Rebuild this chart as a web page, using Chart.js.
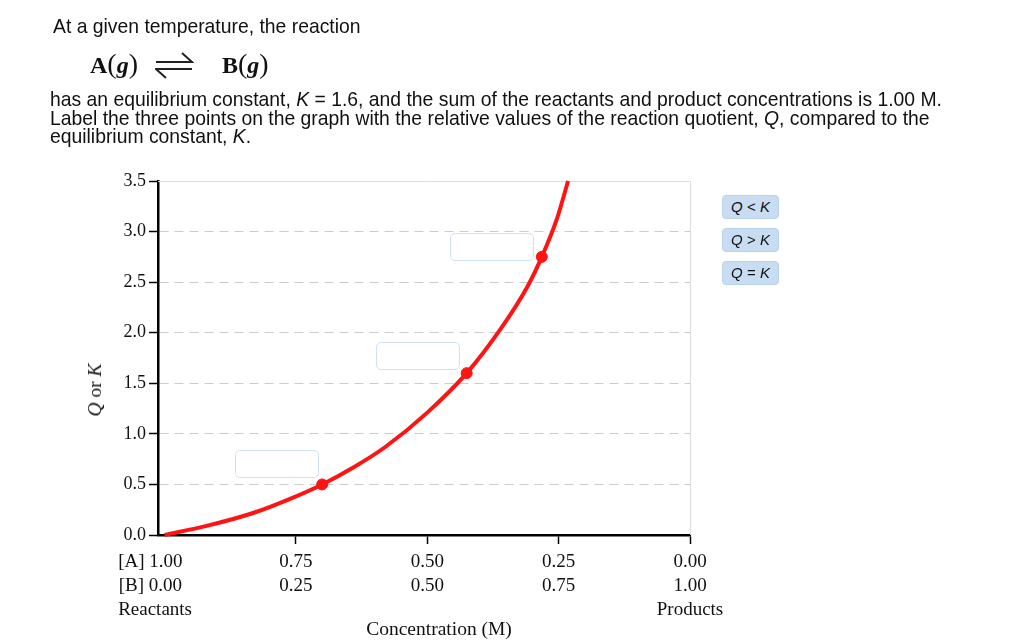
<!DOCTYPE html>
<html lang="en">
<head>
<meta charset="UTF-8">
<title>Q vs K</title>
<script src="https://cdn.jsdelivr.net/npm/chart.js@4.4.1/dist/chart.umd.min.js"></script>
<style>
  body { margin: 0; background: #fff; }
  #wrap { position: relative; width: 1024px; height: 640px; overflow: hidden; }
  #chart { position: absolute; left: 0; top: 0; }
  .txt { position: absolute; font-family: "Liberation Sans", Arial, sans-serif; font-size: 19.35px; line-height: 18.5px; color: #111; white-space: nowrap; }
  .eq { position: absolute; top: 52px; font-family: "Liberation Serif", "Times New Roman", serif; font-size: 24px; line-height: 24px; color: #111; white-space: nowrap; }
  .eq .p { font-weight: normal; font-size: 28px; }
  .serif { position: absolute; font-family: "Liberation Serif", "Times New Roman", serif; font-size: 19.5px; color: #111; white-space: nowrap; }
  .btn { position: absolute; left: 722px; width: 55px; height: 22px; background: #c8ddf2; border: 1px solid #b8d1eb; border-radius: 4px;
         font-family: "Liberation Sans", Arial, sans-serif; font-size: 15px; line-height: 22px; text-align: center; color: #111; }
  .slot { position: absolute; width: 82px; height: 26px; background: #fff; border: 1px solid #cfe1f4; border-radius: 5px; }
</style>
</head>
<body>
<div id="wrap">
  <canvas id="chart" width="1024" height="640"></canvas>

  <div class="txt" style="left:53px; top:17px;">At a given temperature, the reaction</div>
  <div class="eq" style="left:90px;"><b>A</b><span class="p">(</span><b><i>g</i></b><span class="p">)</span></div>
  <svg style="position:absolute; left:155px; top:50px;" width="39" height="30">
    <path d="M1 12 H37 L27 3 M37 19 H1 L11 28" fill="none" stroke="#222" stroke-width="2"/>
  </svg>
  <div class="eq" style="left:222px;"><b>B</b><span class="p">(</span><b><i>g</i></b><span class="p">)</span></div>
  <div class="txt" style="left:50px; top:90px;">has an equilibrium constant, <i>K</i> = 1.6, and the sum of the reactants and product concentrations is 1.00 M.<br>Label the three points on the graph with the relative values of the reaction quotient, <i>Q</i>, compared to the<br>equilibrium constant, <i>K</i>.</div>

  <div class="serif" style="left:95px; top:390px; transform: translate(-50%, -50%) rotate(-90deg);"><i>Q</i> or <i>K</i></div>
  <div class="serif" style="left:439px; top:629px; transform: translate(-50%, -50%);">Concentration (M)</div>

  <div class="slot" style="left:235px; top:450px;"></div>
  <div class="slot" style="left:376px; top:342px;"></div>
  <div class="slot" style="left:450px; top:233px;"></div>

  <div class="btn" style="top:195px;"><i>Q</i> &lt; <i>K</i></div>
  <div class="btn" style="top:228px;"><i>Q</i> &gt; <i>K</i></div>
  <div class="btn" style="top:261px;"><i>Q</i> = <i>K</i></div>
</div>

<script>
// curve: [B] (M) and Q
const curveB = [0, 0.08, 0.17, 0.24, 0.30, 0.36, 0.42, 0.50, 0.575, 0.64, 0.69, 0.718, 0.747, 0.768];
const curveQ = [0, 0.09, 0.22, 0.36, 0.50, 0.67, 0.87, 1.21, 1.60, 2.04, 2.45, 2.75, 3.13, 3.50];

// the three marked points
const pointB = [0.30, 0.575, 0.718];
const pointQ = [0.50, 1.60, 2.75];

// x axis ticks ([B] value) and their labels
const xTicks = [0, 0.25, 0.5, 0.75, 1];
const aLabels = ['1.00', '0.75', '0.50', '0.25', '0.00'];
const bLabels = ['0.00', '0.25', '0.50', '0.75', '1.00'];
const yTicks = [0, 0.5, 1, 1.5, 2, 2.5, 3, 3.5];

const red = '#ff1414';
const serif = '"Liberation Serif", "Times New Roman", serif';
const pad = '      ';

const frame = {
  id: 'frame',
  beforeDatasetsDraw(chart) {
    const {ctx, chartArea: a} = chart;
    ctx.save();
    ctx.strokeStyle = '#dcdcdc';
    ctx.lineWidth = 1;
    ctx.beginPath();
    ctx.moveTo(a.left, a.top + 0.5);
    ctx.lineTo(a.right + 0.5, a.top + 0.5);
    ctx.lineTo(a.right + 0.5, a.bottom);
    ctx.stroke();
    ctx.restore();
  }
};

new Chart(document.getElementById('chart'), {
  type: 'scatter',
  data: {
    datasets: [
      {
        data: curveB.map((b, i) => ({x: b, y: curveQ[i]})),
        showLine: true,
        borderColor: red,
        borderWidth: 4,
        pointRadius: 0,
        cubicInterpolationMode: 'monotone',
        clip: false
      },
      {
        data: pointB.map((b, i) => ({x: b, y: pointQ[i]})),
        backgroundColor: red,
        borderColor: red,
        pointRadius: 5.5,
        showLine: false
      }
    ]
  },
  options: {
    responsive: false,
    animation: false,
    events: [],
    layout: { padding: { left: 98, top: 181, right: 334, bottom: 25 } },
    plugins: { legend: { display: false }, tooltip: { enabled: false } },
    scales: {
      x: {
        type: 'linear', min: -0.0125, max: 1,
        afterBuildTicks: s => { s.ticks = xTicks.map(v => ({value: v})); },
        afterFit: s => { s.height = 80; },
        grid: {
          drawOnChartArea: false, drawTicks: true, tickLength: 9, tickWidth: 1.5, tickBorderDash: [],
          tickColor: c => (c.tick && c.tick.value === 0) ? 'rgba(0,0,0,0)' : '#000'
        },
        border: { color: '#000', width: 2.5 },
        ticks: {
          color: '#111', padding: 6, maxRotation: 0, autoSkip: false,
          font: { family: serif, size: 19, lineHeight: 1.27 },
          callback: (v, i) => {
            if (i === 0) return ['[A] ' + aLabels[0] + pad, '[B] ' + bLabels[0] + pad, 'Reactants' + pad.slice(2)];
            if (i === xTicks.length - 1) return [aLabels[i], bLabels[i], 'Products'];
            return [aLabels[i], bLabels[i]];
          }
        }
      },
      y: {
        min: 0, max: 3.5,
        afterBuildTicks: s => { s.ticks = yTicks.map(v => ({value: v})); },
        afterFit: s => { s.width = 60; },
        grid: {
          color: c => (c.tick && (c.tick.value === 0 || c.tick.value === 3.5)) ? 'rgba(0,0,0,0)' : '#cccccc',
          lineWidth: 1, tickLength: 9, tickColor: '#000', tickWidth: 1.5, tickBorderDash: []
        },
        border: { color: '#000', width: 2.5, dash: [9, 6] },
        ticks: {
          color: '#111', padding: 3,
          font: { family: serif, size: 18 },
          callback: v => v.toFixed(1)
        }
      }
    }
  },
  plugins: [frame]
});
</script>
</body>
</html>
